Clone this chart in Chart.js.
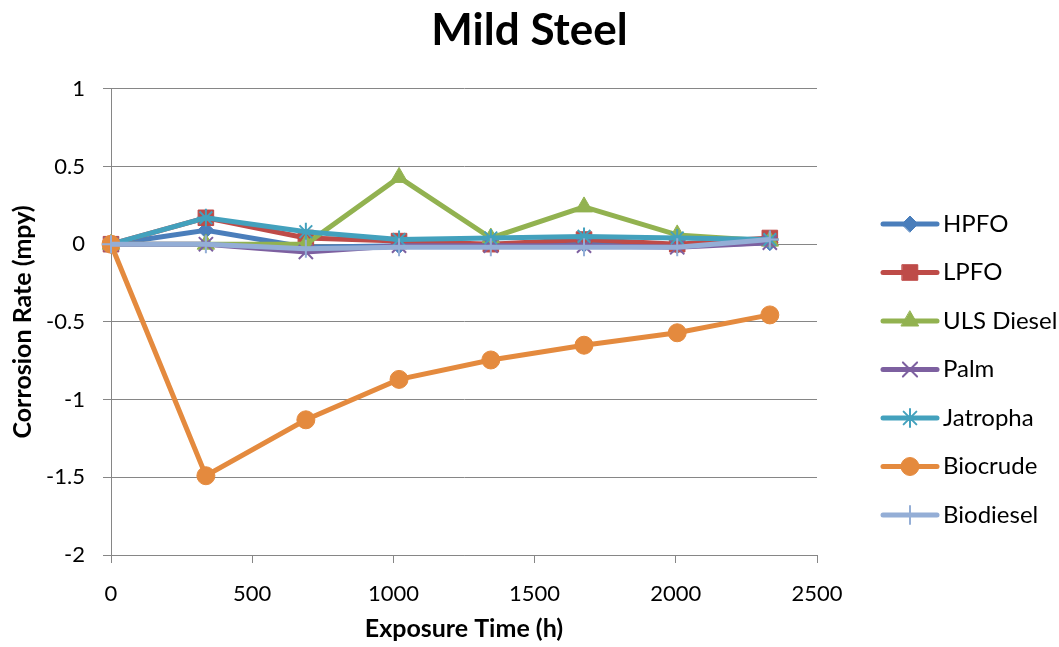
<!DOCTYPE html>
<html>
<head>
<meta charset="utf-8">
<script src="https://cdn.jsdelivr.net/npm/chart.js@4.4.1/dist/chart.umd.min.js"></script>
<style>
  html, body { margin: 0; padding: 0; background: #fff; }
</style>
</head>
<body>
<canvas id="myChart" width="1059" height="647"></canvas>
<script>
// exposure time (h) for each measurement
const hours = [0, 336, 690, 1020, 1345, 1675, 2005, 2333];

// corrosion rate (mpy) per fuel
const hpfo      = [0, 0.09, -0.02, -0.01, 0.00, 0.00, -0.01, 0.01];
const lpfo      = [0, 0.17, 0.04, 0.02, 0.00, 0.03, 0.00, 0.04];
const ulsDiesel = [0, 0.00, 0.00, 0.43, 0.04, 0.24, 0.06, 0.02];
const palm      = [0, 0.00, -0.05, -0.01, -0.01, -0.01, -0.02, 0.01];
const jatropha  = [0, 0.17, 0.08, 0.03, 0.04, 0.05, 0.04, 0.03];
const biocrude  = [0, -1.49, -1.13, -0.87, -0.745, -0.65, -0.57, -0.455];
const biodiesel = [0, 0.00, -0.03, -0.02, -0.02, -0.02, -0.02, 0.03];

const seriesNames = ['HPFO', 'LPFO', 'ULS Diesel', 'Palm', 'Jatropha', 'Biocrude', 'Biodiesel'];
const seriesData = [hpfo, lpfo, ulsDiesel, palm, jatropha, biocrude, biodiesel];

const xTicks = [0, 500, 1000, 1500, 2000, 2500];
const yTicks = [-2, -1.5, -1, -0.5, 0, 0.5, 1];

const FONT = 'Lato, "Open Sans", sans-serif';

// look of each line (colour, marker)
const looks = [
  { color: '#4A7EBB', style: 'rectRot',  r: 8,  bw: 1 },
  { color: '#BE4B48', style: 'rect',     r: 11, bw: 1 },
  { color: '#92B250', style: 'triangle', r: 10, bw: 1 },
  { color: '#7D60A0', style: 'crossRot', r: 10, bw: 2 },
  { color: '#43A1BD', style: 'star',     r: 9,  bw: 2 },
  { color: '#E48A3E', style: 'circle',   r: 9,  bw: 1 },
  { color: '#94AED6', style: 'cross',    r: 9,  bw: 2 }
];

function toXY(values) {
  let pts = [];
  for (let i = 0; i < values.length; i++) {
    pts.push({ x: hours[i], y: values[i] });
  }
  return pts;
}

const datasets = seriesNames.map(function(name, i) {
  return {
    label: name,
    data: toXY(seriesData[i]),
    borderColor: looks[i].color,
    backgroundColor: looks[i].color,
    borderWidth: 5,
    pointStyle: looks[i].style,
    pointRadius: looks[i].r,
    pointBorderWidth: looks[i].bw,
    pointBackgroundColor: looks[i].color,
    pointBorderColor: looks[i].color,
    tension: 0,
    clip: false,
    order: seriesNames.length - i   // later series drawn on top, like Excel
  };
});

// legend with a line and marker for each series
const lineLegend = {
  id: 'lineLegend',
  afterDraw(chart, args, opts) {
    const ctx = chart.ctx;
    chart.data.datasets.forEach(function(ds, i) {
      const y = opts.top + i * opts.step;
      ctx.save();
      ctx.strokeStyle = ds.borderColor;
      ctx.lineWidth = ds.borderWidth;
      ctx.lineCap = 'round';
      ctx.beginPath();
      ctx.moveTo(opts.x0, y);
      ctx.lineTo(opts.x1, y);
      ctx.stroke();
      ctx.fillStyle = ds.pointBackgroundColor;
      ctx.strokeStyle = ds.pointBorderColor;
      ctx.lineWidth = ds.pointBorderWidth;
      Chart.helpers.drawPoint(ctx, {
        pointStyle: ds.pointStyle,
        radius: ds.pointRadius,
        rotation: 0,
        borderWidth: ds.pointBorderWidth
      }, (opts.x0 + opts.x1) / 2, y);
      ctx.fillStyle = '#000';
      ctx.font = opts.font;
      ctx.textBaseline = 'middle';
      ctx.textAlign = 'left';
      ctx.fillText(ds.label, opts.textX, y);
      ctx.restore();
    });
  }
};

function plainNum(value) {
  return String(value);
}

const chart = new Chart('myChart', {
  type: 'line',
  data: { datasets: datasets },
  plugins: [lineLegend],
  options: {
    responsive: false,
    animation: false,
    layout: { padding: 0 },
    plugins: {
      legend: { display: false },
      tooltip: { enabled: false },
      title: {
        display: true,
        text: 'Mild Steel',
        color: '#000',
        font: { family: FONT, size: 44, weight: 'bold', lineHeight: 1.2 },
        padding: { top: 4, bottom: 32 }
      },
      lineLegend: {
        x0: 883, x1: 937, textX: 943, top: 224, step: 48.5,
        font: '24px ' + FONT
      }
    },
    scales: {
      x: {
        type: 'linear',
        min: xTicks[0],
        max: xTicks[xTicks.length - 1],
        afterBuildTicks: function(scale) {
          scale.ticks = xTicks.map(function(v) { return { value: v }; });
        },
        afterFit: function(scale) { scale.height = 92; },
        grid: { drawOnChartArea: false, drawTicks: true, tickLength: 8, color: '#868686' },
        border: { color: '#868686', width: 1 },
        ticks: { color: '#000', font: { family: FONT, size: 22 }, padding: 18, maxRotation: 0, callback: plainNum },
        title: {
          display: true,
          text: 'Exposure Time (h)',
          color: '#000',
          font: { family: FONT, size: 25, weight: 'bold', lineHeight: 1.2 },
          padding: { top: 0, bottom: 3 }
        }
      },
      y: {
        min: yTicks[0],
        max: yTicks[yTicks.length - 1],
        afterBuildTicks: function(scale) {
          scale.ticks = yTicks.map(function(v) { return { value: v }; });
        },
        afterFit: function(scale) { scale.width = 111; },
        grid: { color: '#868686', lineWidth: 1, tickLength: 8 },
        border: { color: '#868686', width: 1 },
        ticks: { color: '#000', font: { family: FONT, size: 22 }, padding: 18, callback: plainNum },
        title: {
          display: true,
          text: 'Corrosion Rate (mpy)',
          color: '#000',
          font: { family: FONT, size: 25, weight: 'bold', lineHeight: 1.2 },
          padding: { top: 8, bottom: 0 }
        }
      },
      // empty axis on the right that keeps room for the legend
      legendRoom: {
        type: 'linear',
        position: 'right',
        display: true,
        grid: { display: false, drawTicks: false },
        border: { display: false },
        ticks: { display: false },
        afterFit: function(scale) { scale.width = 242; }
      }
    }
  }
});
</script>
</body>
</html>
